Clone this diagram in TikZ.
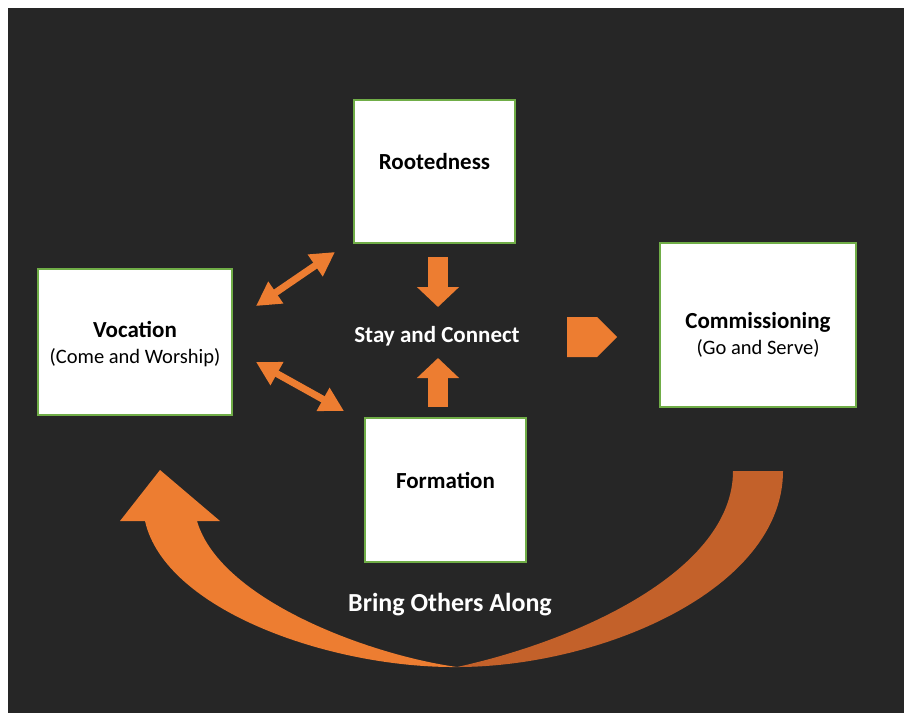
\documentclass[tikz,border=0pt]{standalone}
\usepackage{fontspec}
\setmainfont{Carlito}
\usetikzlibrary{arrows.meta,shapes.symbols}

\definecolor{bgdark}{HTML}{262626}
\definecolor{accent}{HTML}{ED7D31}
\definecolor{accentdark}{HTML}{C3612A}
\definecolor{boxgreen}{HTML}{70AD47}

\tikzset{
  stagebox/.style={draw=boxgreen, line width=1.5pt, fill=white, inner sep=0pt},
  title/.style={font=\fontsize{23}{26}\selectfont\bfseries, align=center, inner sep=0pt},
  twoway/.style={accent, line width=7pt,
    {Triangle[length=24pt,width=25pt]}-{Triangle[length=24pt,width=25pt]}},
  blockarrow/.style={accent, line width=20pt, -{Triangle[length=20pt,width=41pt]}},
}

\begin{document}
\begin{tikzpicture}[x=1pt,y=-1pt]
  \useasboundingbox (0,0) rectangle (904,713);
  \fill[white] (0,0) rectangle (904,713);
  \fill[bgdark] (8,8) rectangle (904,713);

  % the four stages
  \node[stagebox, minimum width=161pt, minimum height=143pt] (rootedness) at (434.5,171.5) {};
  \node[stagebox, minimum width=194pt, minimum height=146pt] (vocation) at (135,342) {};
  \node[stagebox, minimum width=196pt, minimum height=164pt] (commissioning) at (758,325) {};
  \node[stagebox, minimum width=161pt, minimum height=144pt] (formation) at (445.5,490) {};

  \node[title] (rootedness-text) at ([yshift=10pt]rootedness.center) {Rootedness};
  \node[title] (vocation-text) at ([yshift=-2pt]vocation.center)
    {Vocation\\{\mdseries\fontsize{20.5}{26}\selectfont (Come and Worship)}};
  \node[title] (commissioning-text) at ([yshift=-10pt]commissioning.center)
    {Commissioning\\{\mdseries\fontsize{20.5}{26}\selectfont (Go and Serve)}};
  \node[title] (formation-text) at ([yshift=10pt]formation.center) {Formation};

  \node[title, white] (stay) at (437,336) {Stay and Connect};
  \node[title, white, font=\fontsize{26}{30}\selectfont\bfseries] (bring) at (450,605) {Bring Others Along};

  % arrows round the centre
  \coordinate (v-top) at (256,306);
  \coordinate (r-side) at (335,252);
  \coordinate (v-bottom) at (256,362);
  \coordinate (f-side) at (344,411);
  \draw[twoway] (v-top) -- (r-side);
  \draw[twoway] (v-bottom) -- (f-side);

  \coordinate (r-foot) at (438,257);
  \coordinate (stay-top) at (438,307);
  \coordinate (f-head) at (438,407);
  \coordinate (stay-bottom) at (438,358);
  \draw[blockarrow] (r-foot) -- (stay-top);
  \draw[blockarrow] (f-head) -- (stay-bottom);

  \node[signal, signal to=east, fill=accent, inner sep=0pt, anchor=west,
        minimum width=50pt, minimum height=40pt] (go) at (567,337) {};

  % the big return arrow
  \fill[accentdark] (783,471) .. controls (783,590) and (600,667) .. (457,667)
    .. controls (580,640) and (733,570) .. (733,471) -- cycle;
  \fill[accent] (457,667) .. controls (330,668) and (165,610) .. (145,521)
    -- (120,521) -- (160,470) -- (220,521) -- (197,521)
    .. controls (220,600) and (370,655) .. (457,667) -- cycle;
\end{tikzpicture}
\end{document}
